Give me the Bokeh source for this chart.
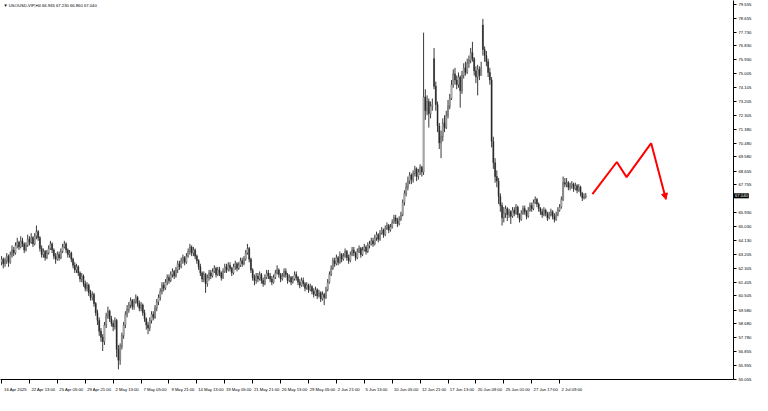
from bokeh.plotting import figure
from bokeh.models import (Range1d, FixedTicker, NumeralTickFormatter, Label,
                          Arrow, NormalHead, ColumnDataSource)
from bokeh.embed import file_html
from bokeh.resources import INLINE

# ---------------- data ----------------
title_text = "\u25bc USOUSD-VIP,H4  66.965 67.230 66.860 67.040"
first_open = 62.7
last_price = 67.040

closes = [
    62.9, 62.6, 62.8, 63.1, 62.7, 63.2, 63.5, 63.3, 63.8, 64.0, 63.7, 64.1, 63.9, 63.5, 63.8, 64.2, 64.0, 64.3, 63.9, 64.4, 64.7, 64.3,
    63.6, 63.2, 63.4, 63.0, 63.3, 63.6, 63.9, 63.5, 63.1, 62.9, 63.2, 63.0, 63.4, 63.7, 63.9, 63.5, 63.2, 63.3, 62.9,
    62.5, 62.2, 62.4, 62.0, 61.6, 61.8, 61.3, 61.0, 61.2, 60.7, 60.4, 60.6, 60.0, 59.4, 58.9,
    58.2, 57.8, 57.5, 58.6, 59.2, 59.5, 59.0, 58.7, 58.5, 58.9, 57.0, 56.3, 57.2, 57.9, 58.6, 59.3, 59.6,
    59.9, 60.2, 59.8, 60.1, 60.4, 60.0, 59.7, 59.9, 59.4, 59.0, 58.6,
    58.4, 58.9, 59.3, 59.1, 59.7, 60.1,
    60.4, 60.8, 61.2, 61.0, 61.4, 61.7, 61.5, 61.9, 62.1, 61.8, 62.2, 62.6, 62.4, 62.8, 63.0, 62.7, 63.1,
    63.4, 63.7, 63.3, 63.5, 63.1, 62.8,
    62.4, 62.0, 61.6, 61.9, 61.3, 61.7,
    62.0, 61.8, 62.1, 62.3, 61.9, 62.2, 62.0, 61.7, 62.1, 62.4, 62.2, 62.5, 62.3, 62.0, 62.4, 62.6, 62.3, 62.5, 62.8, 62.6, 62.9,
    63.3, 63.6, 62.9, 62.2, 61.7, 61.5,
    61.8, 61.6, 61.9, 61.5, 61.3, 61.7, 62.0, 61.8, 61.6, 61.4, 61.7, 62.0, 62.2, 61.9, 61.6, 61.8, 62.1, 61.9, 61.5, 61.7, 61.4, 61.6, 61.9, 61.7, 61.4, 61.2, 61.5, 61.3, 61.0, 61.2, 60.9, 61.1, 60.8,
    60.6, 60.9, 60.5, 60.7, 60.3, 60.6, 60.4, 60.9, 61.4, 61.9,
    62.3, 62.8, 62.6, 63.0, 62.7, 63.2, 62.9, 63.1, 63.4, 63.0, 62.8, 63.2, 63.5, 63.3, 63.0, 63.4, 63.6, 63.2, 63.5, 63.7, 63.4, 63.8,
    63.9, 64.1, 63.9, 64.3, 64.5, 64.2, 64.6, 64.8, 64.5, 64.9, 65.1, 64.8, 65.0,
    65.3, 65.6, 65.4, 65.2, 65.5, 65.8, 66.6, 67.2, 67.6, 68.0, 68.4, 68.1, 68.5, 68.8, 68.3, 68.6, 68.9,
    68.6, 73.5, 72.6, 73.2, 72.4, 72.9, 73.0, 74.2, 73.0, 71.6, 70.5, 70.9, 71.8, 71.5, 72.3, 72.9, 73.4, 74.3, 75.0, 74.6, 74.3, 74.8, 73.9, 74.9,
    75.4, 75.1, 75.7, 75.9, 76.4, 76.0, 75.2, 74.8, 75.3, 74.9, 75.4, 76.6, 76.2, 75.8, 75.1, 74.6, 70.6, 69.2, 68.3, 68.0, 67.0, 66.4, 65.6, 65.9,
    66.2, 65.8, 66.0, 65.7, 66.1, 65.9, 66.3, 65.8, 65.5, 65.9, 66.2, 66.0, 65.7, 66.1, 66.4, 66.2, 66.6, 66.8, 66.5, 66.2, 66.0, 65.8, 66.1, 65.9, 65.6, 65.8, 66.0, 65.7, 65.5, 65.8, 66.1, 66.3,
    66.8, 67.9, 67.8, 67.9, 67.6, 67.7, 67.8, 67.5, 67.7, 67.4, 67.6, 67.2, 66.9, 66.965, 67.04,
]

highs = [
    63.1, 63.0, 63.0, 63.3, 63.2, 63.4, 63.8, 63.7, 64.0, 64.3, 64.1, 64.4, 64.3, 64.0, 64.0, 64.5, 64.4, 64.6, 64.4, 64.6, 65.1, 64.8,
    64.4, 63.8, 63.6, 63.5, 63.5, 63.8, 64.1, 64.0, 63.6, 63.3, 63.4, 63.4, 63.6, 63.9, 64.1, 64.0, 63.6, 63.5, 63.4,
    63.0, 62.7, 62.6, 62.5, 62.1, 62.0, 61.9, 61.5, 61.4, 61.3, 60.9, 60.8, 60.7, 60.1, 59.6,
    59.1, 58.4, 58.0, 58.8, 59.4, 59.8, 59.6, 59.2, 58.9, 59.1, 59.0, 57.3, 57.4, 58.1, 58.8, 59.5, 59.9,
    60.1, 60.4, 60.3, 60.3, 60.6, 60.5, 60.2, 60.1, 60.0, 59.6, 59.1,
    58.8, 59.1, 59.5, 59.5, 59.9, 60.3,
    60.6, 61.0, 61.4, 61.4, 61.6, 61.9, 61.9, 62.1, 62.3, 62.2, 62.4, 62.8, 62.8, 63.0, 63.2, 63.1, 63.3,
    63.6, 63.9, 63.8, 63.7, 63.6, 63.2,
    62.9, 62.6, 62.1, 62.1, 62.0, 61.9,
    62.2, 62.2, 62.3, 62.5, 62.4, 62.4, 62.4, 62.1, 62.3, 62.6, 62.6, 62.7, 62.7, 62.4, 62.6, 62.8, 62.7, 62.7, 63.0, 63.0, 63.1,
    63.5, 63.9, 63.7, 63.0, 62.3, 61.9,
    62.0, 62.0, 62.1, 62.0, 61.7, 61.9, 62.2, 62.2, 62.0, 61.8, 61.9, 62.2, 62.5, 62.3, 62.0, 62.0, 62.3, 62.3, 62.0, 61.9, 61.8, 61.8, 62.1, 62.1, 61.8, 61.6, 61.7, 61.7, 61.4, 61.4, 61.3, 61.3, 61.2,
    61.0, 61.1, 61.0, 60.9, 60.8, 60.8, 60.7, 61.1, 61.6, 62.1,
    62.5, 63.0, 63.0, 63.2, 63.1, 63.4, 63.3, 63.3, 63.6, 63.5, 63.2, 63.4, 63.7, 63.7, 63.4, 63.6, 63.8, 63.7, 63.7, 63.9, 63.8, 64.0,
    64.1, 64.3, 64.3, 64.5, 64.7, 64.6, 64.8, 65.0, 64.9, 65.1, 65.3, 65.2, 65.2,
    65.5, 65.8, 65.8, 65.6, 65.7, 66.0, 66.8, 67.4, 67.9, 68.3, 68.6, 68.5, 68.7, 69.0, 68.9, 68.8, 69.1,
    69.0, 77.7, 74.0, 73.6, 73.4, 73.2, 73.4, 76.7, 74.5, 73.2, 71.8, 71.3, 72.1, 72.3, 72.6, 73.3, 73.7, 74.6, 75.3, 75.4, 74.9, 75.1, 74.9, 75.2,
    75.7, 75.8, 76.0, 76.2, 76.7, 77.1, 76.1, 75.5, 75.6, 75.5, 75.8, 78.6, 76.8, 76.5, 76.0, 75.4, 74.8, 70.9, 69.5, 68.7, 68.2, 67.2, 66.6, 66.3,
    66.4, 66.3, 66.2, 66.1, 66.3, 66.3, 66.5, 66.4, 65.9, 66.1, 66.4, 66.4, 66.1, 66.3, 66.6, 66.6, 66.8, 67.0, 66.9, 66.6, 66.3, 66.2, 66.3, 66.2, 66.0, 66.0, 66.2, 66.1, 65.9, 66.0, 66.3, 66.5,
    67.0, 68.3, 68.2, 68.2, 68.0, 67.9, 68.0, 67.9, 67.9, 67.8, 67.8, 67.7, 67.3, 67.2, 67.23,
]

lows = [
    62.5, 62.3, 62.4, 62.6, 62.4, 62.6, 63.0, 63.1, 63.2, 63.6, 63.5, 63.6, 63.7, 63.3, 63.4, 63.7, 63.8, 63.9, 63.7, 63.8, 64.2, 64.1,
    63.4, 63.0, 63.0, 62.8, 62.9, 63.2, 63.5, 63.3, 62.9, 62.6, 62.8, 62.8, 62.9, 63.3, 63.6, 63.3, 63.0, 63.0, 62.7,
    62.3, 62.0, 62.0, 61.8, 61.4, 61.4, 61.1, 60.8, 60.8, 60.5, 60.2, 60.2, 59.8, 59.2, 58.6,
    57.9, 57.5, 56.9, 57.3, 58.4, 59.0, 58.8, 58.5, 58.2, 58.3, 56.5, 55.7, 56.0, 57.0, 57.7, 58.4, 59.1,
    59.4, 59.7, 59.6, 59.6, 60.0, 59.8, 59.5, 59.5, 59.2, 58.8, 58.3,
    58.0, 58.2, 58.7, 58.9, 59.0, 59.5,
    59.9, 60.2, 60.6, 60.8, 60.9, 61.2, 61.3, 61.4, 61.7, 61.6, 61.7, 62.0, 62.2, 62.3, 62.6, 62.5, 62.6,
    63.0, 63.2, 63.1, 63.1, 62.9, 62.6,
    62.2, 61.8, 61.4, 61.4, 60.7, 61.1,
    61.5, 61.6, 61.7, 62.0, 61.7, 61.8, 61.8, 61.5, 61.6, 62.0, 62.0, 62.1, 62.1, 61.8, 61.9, 62.2, 62.1, 62.2, 62.4, 62.4, 62.5,
    62.8, 63.2, 62.7, 62.0, 61.5, 61.2,
    61.3, 61.4, 61.5, 61.3, 61.1, 61.2, 61.6, 61.6, 61.4, 61.2, 61.3, 61.6, 61.9, 61.7, 61.4, 61.5, 61.7, 61.7, 61.3, 61.4, 61.2, 61.3, 61.5, 61.5, 61.2, 61.0, 61.1, 61.1, 60.8, 60.9, 60.7, 60.8, 60.6,
    60.4, 60.5, 60.3, 60.4, 60.1, 60.2, 59.9, 60.3, 60.8, 61.3,
    61.8, 62.2, 62.4, 62.5, 62.5, 62.6, 62.7, 62.8, 63.0, 62.8, 62.6, 62.7, 63.1, 63.1, 62.8, 62.9, 63.3, 63.0, 63.1, 63.4, 63.2, 63.3,
    63.6, 63.8, 63.7, 63.8, 64.1, 64.0, 64.1, 64.5, 64.3, 64.4, 64.8, 64.6, 64.7,
    64.9, 65.2, 65.2, 65.0, 65.1, 65.4, 65.7, 66.4, 67.0, 67.4, 67.8, 67.8, 67.9, 68.3, 68.0, 68.1, 68.4,
    68.3, 68.4, 72.0, 72.3, 71.5, 72.1, 72.6, 74.0, 72.6, 71.2, 70.1, 69.5, 70.6, 71.2, 71.4, 72.1, 72.7, 73.3, 74.1, 74.3, 74.0, 74.1, 72.8, 73.7,
    74.7, 74.9, 75.0, 75.4, 75.7, 75.8, 74.9, 74.4, 73.6, 74.6, 74.9, 76.2, 75.8, 75.5, 74.8, 74.3, 70.2, 68.8, 67.9, 67.6, 66.5, 66.0, 65.1, 65.3,
    65.6, 65.4, 65.6, 65.2, 65.6, 65.7, 65.8, 65.6, 65.3, 65.4, 65.8, 65.8, 65.5, 65.6, 66.0, 66.0, 66.1, 66.5, 66.3, 66.0, 65.8, 65.6, 65.7, 65.7, 65.4, 65.5, 65.7, 65.5, 65.3, 65.4, 65.7, 66.0,
    66.2, 66.7, 67.6, 67.6, 67.4, 67.4, 67.5, 67.3, 67.4, 67.2, 67.3, 67.0, 66.7, 66.8, 66.86,
]

# weekend gap opens (bar index -> open)
gap_opens = {248: 76.0, 276: 78.2}

x_tick_idx = [0, 16, 32, 48, 64, 80, 96, 112, 128, 144, 160, 176, 192, 208, 224, 240, 256, 272, 288, 304, 320]
x_tick_labels = ["16 Apr 2025", "22 Apr 13:00", "25 Apr 05:00", "29 Apr 21:00", "2 May 13:00",
                 "7 May 05:00", "9 May 21:00", "14 May 13:00", "19 May 05:00", "21 May 21:00",
                 "26 May 13:00", "29 May 05:00", "2 Jun 21:00", "5 Jun 13:00", "10 Jun 05:00",
                 "12 Jun 21:00", "17 Jun 13:00", "20 Jun 09:00", "25 Jun 01:00", "27 Jun 17:00",
                 "2 Jul 09:00"]

y_ticks = [79.555, 78.655, 77.730, 76.830, 75.930, 75.005, 74.105, 73.205, 72.305, 71.380,
           70.480, 69.580, 68.655, 67.755, 65.930, 65.030, 64.130, 63.205, 62.305, 61.405,
           60.505, 59.580, 58.680, 57.780, 56.855, 55.955, 55.055]

# red projection path (bar index, price)
proj_x = [338.8, 352.8, 358.4, 372.5, 381.0]
proj_y = [67.15, 69.25, 68.26, 70.48, 66.80]

# ---------------- build ----------------
n = len(closes)
idx = list(range(n))
opens = [first_open] + closes[:-1]
for k, v in gap_opens.items():
    opens[k] = v
top = [max(o, c) for o, c in zip(opens, closes)]
bot = [min(o, c) for o, c in zip(opens, closes)]
fill = ["#ffffff" if c >= o else "#1a1a1a" for o, c in zip(opens, closes)]

src = ColumnDataSource(dict(x=idx, high=highs, low=lows, top=top, bot=bot, fill=fill))

X0, X1 = -0.6, 419.7
Y0, Y1 = 55.04, 79.80
FONT = "Liberation Sans"
FSZ = 4.2
FS = f"{FSZ}px"
FRAME_W = 733

p = figure(frame_width=FRAME_W, frame_height=379, x_range=Range1d(X0, X1), y_range=Range1d(Y0, Y1),
           output_backend="svg", toolbar_location=None, y_axis_location="right")
p.min_border_left = 0
p.min_border_top = 0
p.min_border_right = 0
p.min_border_bottom = 0
p.outline_line_color = None
p.grid.visible = False
p.background_fill_color = "white"
p.border_fill_color = "white"

p.segment(x0="x", y0="low", x1="x", y1="high", source=src, line_color="#3a3a3a", line_width=1)
p.vbar(x="x", width=0.6, top="top", bottom="bot", source=src, fill_color="fill",
       line_color="#3a3a3a", line_width=0.5)

# right price axis
ya = p.yaxis[0]
ya.ticker = FixedTicker(ticks=y_ticks, minor_ticks=[])
ya.formatter = NumeralTickFormatter(format="0.000")
ya.major_tick_in = 0
ya.major_tick_out = 3
ya.minor_tick_out = 0
ya.minor_tick_in = 0
ya.major_label_standoff = 2
ya.major_label_text_font = FONT
ya.major_label_text_font_size = FS
ya.major_label_text_color = "#000000"
ya.axis_line_color = "#000000"
ya.major_tick_line_color = "#000000"

# bottom time axis: tick marks at each label start (minor ticks),
# label text centred just right of its tick (major ticks, no mark)
char_w = {" ": 0.278, ":": 0.278, "A": 0.667, "M": 0.833, "J": 0.5, "p": 0.556, "r": 0.333,
          "a": 0.556, "y": 0.5, "u": 0.556, "n": 0.556, "l": 0.222}
px_per_bar = FRAME_W / (X1 - X0)
label_pos = [int(round(i + (2 + sum(char_w.get(ch, 0.556) for ch in s) * FSZ / 2) / px_per_bar))
             for i, s in zip(x_tick_idx, x_tick_labels)]
xa = p.xaxis[0]
xa.ticker = FixedTicker(ticks=label_pos, minor_ticks=x_tick_idx)
xa.major_label_overrides = {k: s for k, s in zip(label_pos, x_tick_labels)}
xa.major_tick_in = 0
xa.major_tick_out = 0
xa.minor_tick_out = 4
xa.minor_tick_in = 0
xa.major_label_standoff = 3
xa.major_label_text_font = FONT
xa.major_label_text_font_size = FS
xa.major_label_text_color = "#000000"
xa.axis_line_color = "#000000"
xa.minor_tick_line_color = "#000000"

# title
p.add_layout(Label(x=X0, y=Y1, x_offset=3, y_offset=-2, text=title_text, text_align="left",
                   text_baseline="top", text_font=FONT, text_font_size=FS, text_color="#000000"))

# current price box (side-panel annotation so it is not clipped to the frame)
p.add_layout(Label(x=X1, y=last_price, x_offset=0.5, text=f"{last_price:.3f}", text_align="left",
                   text_baseline="middle", text_font=FONT, text_font_size=FS, text_color="#ffffff",
                   background_fill_color="#000000", padding=1), "below")

# red projection
p.line(proj_x[:-1], proj_y[:-1], line_color="#ff0000", line_width=2)
p.add_layout(Arrow(end=NormalHead(size=6, fill_color="#ff0000", line_color="#ff0000"),
                   x_start=proj_x[-2], y_start=proj_y[-2], x_end=proj_x[-1], y_end=proj_y[-1],
                   line_color="#ff0000", line_width=2))

open("out.html", "w").write(file_html(p, INLINE))
